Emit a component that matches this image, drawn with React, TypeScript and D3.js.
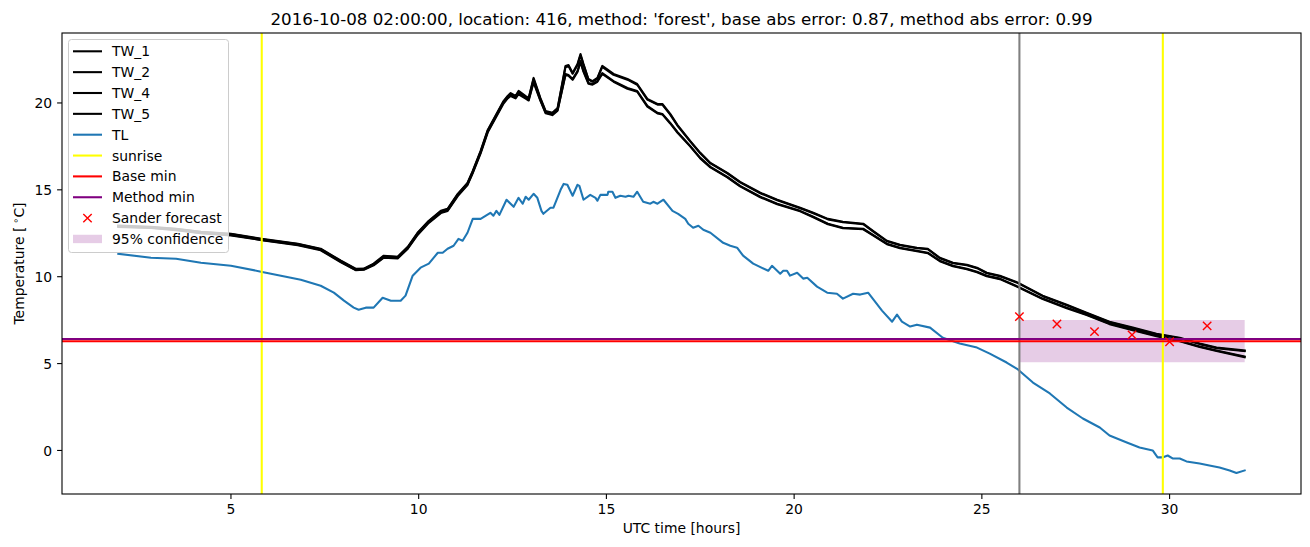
import React from 'react';
import * as d3 from 'd3';

// ---------- data ----------
const twTime = [
  2.0, 2.87, 3.54, 4.2, 5.0, 5.82, 6.78, 7.39, 7.93, 8.32,
  8.54, 8.8, 9.07, 9.44, 9.71, 9.97, 10.27, 10.59, 10.77, 11.04,
  11.3, 11.44, 11.65, 11.84, 12.26, 12.37, 12.45, 12.58, 12.66, 12.85,
  12.93, 13.06, 13.24, 13.38, 13.56, 13.7, 13.91, 13.99, 14.1, 14.23,
  14.31, 14.39, 14.52, 14.63, 14.76, 14.89, 15.19, 15.56, 15.82, 16.09,
  16.36, 16.49, 16.7, 16.89, 17.23, 17.5, 17.77, 18.22, 18.56, 19.1,
  19.55, 20.16, 20.51, 20.9, 21.3, 21.84, 22.1, 22.47, 22.82, 23.27,
  23.56, 23.88, 24.23, 24.6, 24.87, 25.13, 25.48, 25.96, 26.62, 27.26,
  27.79, 28.4, 29.02, 29.65, 30.27, 30.8, 31.25, 32.0,
];

const tw1 = [
  12.95, 12.87, 12.76, 12.59, 12.47, 12.18, 11.9, 11.61, 10.92, 10.46,
  10.46, 10.75, 11.21, 11.15, 11.72, 12.53, 13.22, 13.79, 13.91, 14.77,
  15.4, 16.09, 17.24, 18.45, 20.11, 20.4, 20.57, 20.4, 20.69, 20.4,
  20.29, 21.44, 20.29, 19.54, 19.43, 19.71, 22.13, 22.18, 21.72, 22.24,
  22.82, 22.24, 21.38, 21.26, 21.44, 22.13, 21.67, 21.38, 21.09, 20.23,
  19.94, 19.94, 19.37, 18.74, 17.82, 17.13, 16.55, 15.98, 15.46, 14.83,
  14.43, 13.97, 13.68, 13.33, 13.16, 13.05, 12.64, 12.07, 11.84, 11.67,
  11.61, 11.09, 10.8, 10.69, 10.52, 10.23, 10.06, 9.66, 8.91, 8.39,
  7.93, 7.41, 7.07, 6.72, 6.49, 6.15, 5.92, 5.75,
];

const tw2 = [
  12.92, 12.85, 12.74, 12.57, 12.45, 12.16, 11.88, 11.58, 10.9, 10.44,
  10.45, 10.72, 11.18, 11.13, 11.69, 12.5, 13.19, 13.76, 13.88, 14.74,
  15.37, 16.05, 17.2, 18.41, 20.07, 20.36, 20.52, 20.36, 20.64, 20.35,
  20.25, 21.38, 20.25, 19.5, 19.4, 19.67, 22.06, 22.12, 21.68, 22.18,
  22.74, 22.19, 21.34, 21.22, 21.4, 22.08, 21.62, 21.34, 21.05, 20.19,
  19.9, 19.9, 19.33, 18.7, 17.79, 17.1, 16.52, 15.95, 15.43, 14.8,
  14.4, 13.94, 13.65, 13.3, 13.13, 13.02, 12.61, 12.04, 11.81, 11.64,
  11.58, 11.06, 10.77, 10.66, 10.49, 10.2, 10.03, 9.63, 8.88, 8.36,
  7.9, 7.38, 7.04, 6.69, 6.46, 6.12, 5.89, 5.72,
];

const tw4 = [
  12.89, 12.82, 12.7, 12.52, 12.4, 12.12, 11.84, 11.55, 10.86, 10.4,
  10.42, 10.68, 11.13, 11.08, 11.64, 12.44, 13.14, 13.7, 13.82, 14.68,
  15.32, 16.0, 17.15, 18.36, 20.02, 20.3, 20.45, 20.3, 20.55, 20.3,
  20.18, 21.25, 20.18, 19.45, 19.34, 19.6, 21.67, 21.61, 21.38, 21.84,
  22.41, 21.84, 21.15, 21.09, 21.26, 21.72, 21.26, 20.86, 20.69, 19.83,
  19.43, 19.37, 18.85, 18.33, 17.53, 16.84, 16.32, 15.75, 15.23, 14.6,
  14.2, 13.79, 13.45, 13.05, 12.82, 12.76, 12.41, 11.9, 11.67, 11.49,
  11.38, 10.92, 10.63, 10.46, 10.29, 10.06, 9.89, 9.43, 8.74, 8.22,
  7.82, 7.3, 6.95, 6.61, 6.32, 5.98, 5.75, 5.4,
];

const tw5 = [
  12.86, 12.8, 12.68, 12.5, 12.38, 12.1, 11.81, 11.52, 10.83, 10.38,
  10.4, 10.65, 11.1, 11.05, 11.61, 12.4, 13.1, 13.66, 13.78, 14.64,
  15.28, 15.96, 17.1, 18.31, 19.97, 20.26, 20.4, 20.26, 20.5, 20.25,
  20.14, 21.18, 20.14, 19.41, 19.3, 19.56, 21.61, 21.56, 21.33, 21.78,
  22.34, 21.79, 21.11, 21.05, 21.22, 21.67, 21.22, 20.82, 20.65, 19.79,
  19.4, 19.34, 18.82, 18.3, 17.5, 16.81, 16.29, 15.72, 15.2, 14.57,
  14.17, 13.76, 13.42, 13.02, 12.79, 12.73, 12.38, 11.87, 11.64, 11.46,
  11.35, 10.89, 10.6, 10.43, 10.26, 10.03, 9.86, 9.4, 8.71, 8.19,
  7.79, 7.27, 6.92, 6.58, 6.29, 5.95, 5.72, 5.37,
];

const tlTime = [
  2.0, 2.87, 3.54, 4.2, 5.0, 5.8, 6.33, 6.86, 7.39, 7.74,
  8.01, 8.27, 8.4, 8.59, 8.8, 9.04, 9.26, 9.52, 9.65, 9.84,
  10.05, 10.27, 10.51, 10.64, 10.77, 10.93, 11.06, 11.17, 11.3, 11.44,
  11.65, 11.91, 11.99, 12.07, 12.15, 12.34, 12.53, 12.66, 12.77, 12.85,
  12.93, 13.06, 13.16, 13.27, 13.32, 13.51, 13.59, 13.78, 13.86, 13.96,
  14.1, 14.23, 14.28, 14.39, 14.57, 14.71, 14.76, 14.84, 15.03, 15.05,
  15.16, 15.24, 15.37, 15.51, 15.59, 15.72, 15.82, 15.98, 16.17, 16.25,
  16.36, 16.52, 16.76, 16.91, 17.1, 17.18, 17.31, 17.45, 17.58, 17.77,
  18.11, 18.3, 18.48, 18.64, 18.91, 19.31, 19.41, 19.63, 19.71, 19.81,
  19.89, 20.08, 20.24, 20.35, 20.61, 20.88, 21.14, 21.3, 21.57, 21.76,
  21.97, 22.34, 22.61, 22.74, 22.87, 23.09, 23.27, 23.62, 23.96, 24.41,
  24.87, 25.21, 25.66, 25.96, 26.36, 26.81, 27.26, 27.69, 28.14, 28.4,
  28.86, 29.2, 29.55, 29.68, 29.81, 29.95, 30.08, 30.27, 30.45, 30.8,
  31.06, 31.33, 31.6, 31.78, 32.0,
];

const tlValues = [
  11.32, 11.09, 11.03, 10.8, 10.63, 10.29, 10.06, 9.83, 9.48, 9.08,
  8.62, 8.22, 8.1, 8.22, 8.22, 8.79, 8.62, 8.62, 8.91, 10.06,
  10.52, 10.75, 11.38, 11.38, 11.61, 11.78, 12.18, 12.07, 12.53, 13.33,
  13.33, 13.68, 13.51, 13.79, 13.56, 14.43, 14.02, 14.54, 14.2, 14.6,
  14.43, 14.77, 14.54, 13.79, 13.62, 13.97, 13.97, 15.0, 15.34, 15.29,
  14.66, 15.29, 15.23, 14.43, 14.71, 14.54, 14.37, 14.71, 14.71, 14.89,
  14.89, 14.54, 14.66, 14.6, 14.66, 14.6, 14.89, 14.31, 14.2, 14.31,
  14.2, 14.43, 13.79, 13.62, 13.33, 13.05, 12.82, 12.93, 12.7, 12.53,
  11.95, 11.78, 11.67, 11.21, 10.75, 10.34, 10.63, 10.17, 10.34, 10.34,
  10.06, 10.23, 9.89, 9.94, 9.43, 9.08, 9.02, 8.74, 9.02, 8.97,
  9.08, 8.05, 7.41, 7.82, 7.41, 7.13, 7.24, 7.07, 6.49, 6.15,
  5.92, 5.57, 5.06, 4.66, 3.91, 3.28, 2.47, 1.84, 1.32, 0.86,
  0.46, 0.17, 0.0, -0.4, -0.4, -0.29, -0.46, -0.46, -0.63, -0.75,
  -0.86, -0.98, -1.15, -1.3, -1.15,
];

const sunriseTimes = [5.82, 29.82];
const forecastTime = 26.0;
const baseMin = 6.29;
const methodMin = 6.41;
const sanderTime = [26, 27, 28, 29, 30, 31];
const sanderValues = [7.7, 7.28, 6.84, 6.65, 6.26, 7.17];
const confTime = [26, 32];
const confLow = [5.07, 5.07];
const confHigh = [7.51, 7.51];

const xTicks = [5, 10, 15, 20, 25, 30];
const yTicks = [0, 5, 10, 15, 20];

const legendLabels = ['TW_1', 'TW_2', 'TW_4', 'TW_5', 'TL', 'sunrise', 'Base min', 'Method min', 'Sander forecast', '95% confidence'];

const titleText = "2016-10-08 02:00:00, location: 416, method: 'forest', base abs error: 0.87, method abs error: 0.99";

// ---------- component ----------
export default function App() {
  const W = 1310, H = 547;
  const L = 62, R = 1301, T = 33, B = 494;
  const FONT = "'DejaVu Sans', sans-serif";
  const fs = 13.9;

  const allT = [...twTime, ...tlTime, ...sanderTime, ...confTime];
  const [t0, t1] = d3.extent(allT) as [number, number];
  const tp = (t1 - t0) * 0.05;
  const x = d3.scaleLinear().domain([t0 - tp, t1 + tp]).range([L, R]);

  const allV = [...tw1, ...tw2, ...tw4, ...tw5, ...tlValues, ...sanderValues, ...confLow, ...confHigh];
  const [v0, v1] = d3.extent(allV) as [number, number];
  const vp = (v1 - v0) * 0.05;
  const y = d3.scaleLinear().domain([v0 - vp, v1 + vp]).range([B, T]);

  const mkLine = (times: number[], vals: number[]) =>
    d3.line<number>().x((_, i) => x(times[i])).y((d) => y(d))(vals.slice(0, times.length)) || '';

  const area = d3
    .area<number>()
    .x((d) => x(d))
    .y0((_, i) => y(confLow[i]))
    .y1((_, i) => y(confHigh[i]))(confTime) || '';

  const twSeries = [tw1, tw2, tw4, tw5];
  const lw = 2.08;

  const xMark = (cx: number, cy: number, key: string | number) => {
    const s = 4.2;
    return (
      <path
        key={key}
        d={`M${cx - s},${cy - s}L${cx + s},${cy + s}M${cx - s},${cy + s}L${cx + s},${cy - s}`}
        stroke="red"
        strokeWidth={1.4}
        fill="none"
      />
    );
  };

  // legend
  const legX = 68.5, legY = 39.5, legW = 160, legH = 213;
  const rowY0 = 51.3, rowDy = 20.85;
  const sx0 = 73, sx1 = 102, tx = 112;
  const legendSample = (i: number, cy: number) => {
    if (i < 4) return <line x1={sx0} x2={sx1} y1={cy} y2={cy} stroke="black" strokeWidth={lw} />;
    if (i === 4) return <line x1={sx0} x2={sx1} y1={cy} y2={cy} stroke="#1f77b4" strokeWidth={lw} />;
    if (i === 5) return <line x1={sx0} x2={sx1} y1={cy} y2={cy} stroke="yellow" strokeWidth={lw} />;
    if (i === 6) return <line x1={sx0} x2={sx1} y1={cy} y2={cy} stroke="red" strokeWidth={lw} />;
    if (i === 7) return <line x1={sx0} x2={sx1} y1={cy} y2={cy} stroke="purple" strokeWidth={lw} />;
    if (i === 8) return xMark((sx0 + sx1) / 2, cy, 'lm');
    return <rect x={sx0} y={cy - 4.2} width={sx1 - sx0} height={8.4} fill="purple" fillOpacity={0.2} />;
  };

  return (
    <svg
      width={W}
      height={H}
      style={{ position: 'absolute', left: 0, top: 0, background: 'white' }}
      fontFamily={FONT}
    >
      <rect x={0} y={0} width={W} height={H} fill="white" />
      {/* confidence band */}
      <path d={area} fill="purple" fillOpacity={0.2} stroke="none" />
      {/* TW lines */}
      {twSeries.map((vals, i) => (
        <path key={'tw' + i} d={mkLine(twTime, vals)} fill="none" stroke="black" strokeWidth={lw} strokeLinejoin="round" strokeLinecap="square" />
      ))}
      {/* TL */}
      <path d={mkLine(tlTime, tlValues)} fill="none" stroke="#1f77b4" strokeWidth={lw} strokeLinejoin="round" strokeLinecap="square" />
      {/* forecast time line */}
      <line x1={x(forecastTime)} x2={x(forecastTime)} y1={T} y2={B} stroke="grey" strokeWidth={lw} />
      {/* sunrise */}
      {sunriseTimes.map((t, i) => (
        <line key={'sr' + i} x1={x(t)} x2={x(t)} y1={T} y2={B} stroke="yellow" strokeWidth={lw} />
      ))}
      {/* base / method min */}
      <line x1={L} x2={R} y1={y(baseMin)} y2={y(baseMin)} stroke="red" strokeWidth={lw} />
      <line x1={L} x2={R} y1={y(methodMin)} y2={y(methodMin)} stroke="purple" strokeWidth={lw} />
      {/* sander forecast */}
      {sanderTime.map((t, i) => xMark(x(t), y(sanderValues[i]), 'sf' + i))}

      {/* spines */}
      <rect x={L} y={T} width={R - L} height={B - T} fill="none" stroke="black" strokeWidth={1.1} />

      {/* x ticks */}
      {xTicks.map((t) => (
        <g key={'xt' + t}>
          <line x1={x(t)} x2={x(t)} y1={B} y2={B + 4.9} stroke="black" strokeWidth={1.1} />
          <text x={x(t)} y={B + 20.4} textAnchor="middle" fontSize={fs} fill="black">{t}</text>
        </g>
      ))}
      {/* y ticks */}
      {yTicks.map((v) => (
        <g key={'yt' + v}>
          <line x1={L - 4.9} x2={L} y1={y(v)} y2={y(v)} stroke="black" strokeWidth={1.1} />
          <text x={L - 9.8} y={y(v) + 5.2} textAnchor="end" fontSize={fs} fill="black">{v}</text>
        </g>
      ))}

      {/* axis labels */}
      <text x={(L + R) / 2} y={533} textAnchor="middle" fontSize={fs} fill="black">UTC time [hours]</text>
      <text transform={`translate(23.5,${(T + B) / 2}) rotate(-90)`} textAnchor="middle" fontSize={fs} fill="black">
        Temperature [<tspan dx={3} dy={-5} fontSize={9.7}>∘</tspan><tspan dy={5}>C]</tspan>
      </text>

      {/* title */}
      <text x={(L + R) / 2} y={24.5} textAnchor="middle" fontSize={16.7} fill="black">{titleText}</text>

      {/* legend */}
      <rect x={legX} y={legY} width={legW} height={legH} rx={3} ry={3} fill="white" fillOpacity={0.8} stroke="#cccccc" strokeWidth={1} />
      {legendLabels.map((lab, i) => {
        const cy = rowY0 + i * rowDy;
        return (
          <g key={'lg' + i}>
            {legendSample(i, cy)}
            <text x={tx} y={cy + 5} fontSize={fs} fill="black">{lab}</text>
          </g>
        );
      })}
    </svg>
  );
}
